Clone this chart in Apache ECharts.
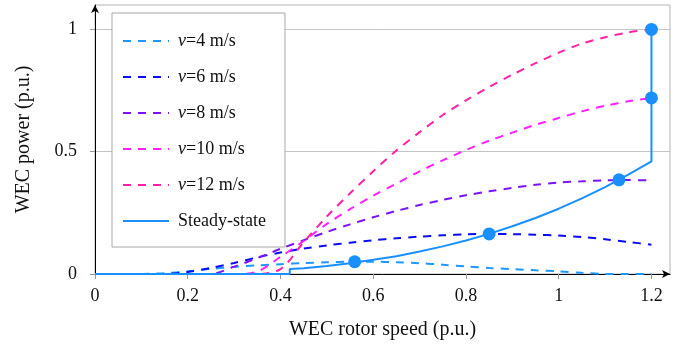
<!DOCTYPE html>
<html>
<head>
<meta charset="utf-8">
<script src="https://cdn.jsdelivr.net/npm/echarts@6/dist/echarts.min.js"></script>
<style>
  html, body { margin: 0; padding: 0; background: #fff; }
  #main { width: 689px; height: 347px; }
</style>
</head>
<body>
<div id="main"></div>
<script>
// rotor speed grid for the wind-speed curves (p.u.)
const speed = [0.1, 0.15, 0.2, 0.25, 0.3, 0.35, 0.4, 0.45, 0.5, 0.55, 0.6, 0.65,
               0.7, 0.75, 0.8, 0.85, 0.9, 0.95, 1.0, 1.05, 1.1, 1.15, 1.2];

const power4  = [0, 0.003, 0.011, 0.021, 0.029, 0.035, 0.040, 0.045, 0.048, 0.050, 0.050, 0.048,
                 0.044, 0.038, 0.031, 0.025, 0.020, 0.015, 0.011, 0.005, 0, 0, 0];
const power6  = [0, 0, 0.008, 0.025, 0.045, 0.068, 0.088, 0.104, 0.117, 0.128, 0.138, 0.146,
                 0.153, 0.158, 0.162, 0.164, 0.163, 0.161, 0.157, 0.151, 0.142, 0.131, 0.12];
const power8  = [0, 0, 0, 0, 0.03, 0.065, 0.103, 0.138, 0.172, 0.203, 0.232, 0.258,
                 0.282, 0.303, 0.322, 0.338, 0.352, 0.365, 0.374, 0.379, 0.383, 0.384, 0.383];
const power10 = [0, 0, 0, 0, 0, 0.01, 0.07, 0.135, 0.205, 0.265, 0.32, 0.37,
                 0.42, 0.465, 0.507, 0.545, 0.578, 0.61, 0.638, 0.665, 0.688, 0.706, 0.72];
const power12 = [0, 0, 0, 0, 0, 0, 0.02, 0.13, 0.235, 0.33, 0.42, 0.505,
                 0.58, 0.65, 0.71, 0.765, 0.815, 0.862, 0.905, 0.942, 0.968, 0.988, 1.0];

// steady-state trajectory
const steadySpeed = [0, 0.42, 0.42, 0.45, 0.5, 0.55, 0.6, 0.65, 0.7, 0.75, 0.8, 0.85,
                     0.9, 0.95, 1.0, 1.05, 1.1, 1.15, 1.2, 1.2];
const steadyPower = [0, 0, 0.02, 0.024, 0.033, 0.044, 0.058, 0.073, 0.092, 0.113, 0.137, 0.164,
                     0.195, 0.229, 0.267, 0.309, 0.355, 0.406, 0.461, 1.0];

// operating points
const opSpeed = [0.56, 0.85, 1.13, 1.2, 1.2];
const opPower = [0.05, 0.164, 0.385, 0.72, 1.0];

const xTicks = [0, 0.2, 0.4, 0.6, 0.8, 1, 1.2];
const yTicks = [0, 0.5, 1];

const FONT = '"Liberation Serif", "DejaVu Serif", serif';

function pairs(xs, ys) {
    return xs.map((x, i) => [x, ys[i]]);
}

function dashed(name, color, values) {
    return {
        name: name,
        type: 'line',
        data: pairs(speed, values),
        smooth: 0.3,
        showSymbol: false,
        symbol: 'none',
        clip: true,
        lineStyle: { color: color, width: 2, type: [8, 7] },
        itemStyle: { color: color },
        z: 2
    };
}

const chart = echarts.init(document.getElementById('main'));

const option = {
    animation: false,
    grid: {
        left: 95, right: 19, top: 5, bottom: 73,
        show: true, borderColor: '#b4b4b4', borderWidth: 1
    },
    legend: {
        left: 112, top: 13,
        orient: 'vertical',
        data: ['v=4 m/s', 'v=6 m/s', 'v=8 m/s', 'v=10 m/s', 'v=12 m/s', 'Steady-state'],
        backgroundColor: '#fff',
        borderColor: '#a8a8a8',
        borderWidth: 1,
        padding: [19, 19, 17, 10],
        itemWidth: 46,
        itemHeight: 14,
        itemGap: 18,
        itemStyle: { opacity: 0 },
        formatter: function (name) {
            if (name.indexOf('v=') === 0) return '{i|v}' + name.slice(1);
            return name;
        },
        textStyle: {
            fontFamily: FONT, fontSize: 18, color: '#111',
            padding: [0, 0, 0, 4],
            rich: { i: { fontFamily: FONT, fontSize: 18, fontStyle: 'italic', color: '#111' } }
        }
    },
    xAxis: {
        type: 'value',
        min: 0, max: 1.24,
        name: 'WEC rotor speed (p.u.)',
        nameLocation: 'middle',
        nameGap: 46,
        nameTextStyle: { fontFamily: FONT, fontSize: 20, color: '#111' },
        axisLine: {
            show: true, onZero: false,
            lineStyle: { color: '#000', width: 1 },
            symbol: ['none', 'arrow'], symbolSize: [6, 8]
        },
        axisTick: { show: true, customValues: xTicks, length: 5, lineStyle: { color: '#999' } },
        axisLabel: {
            customValues: xTicks,
            margin: 13,
            fontFamily: FONT, fontSize: 18, color: '#111'
        },
        splitLine: { show: false }
    },
    yAxis: {
        type: 'value',
        min: 0, max: 1.1,
        name: 'WEC power (p.u.)',
        nameLocation: 'middle',
        nameGap: 61,
        nameTextStyle: { fontFamily: FONT, fontSize: 20, color: '#111' },
        axisLine: {
            show: true, onZero: false,
            lineStyle: { color: '#000', width: 1 },
            symbol: ['none', 'arrow'], symbolSize: [6, 8]
        },
        axisTick: { show: true, customValues: yTicks, length: 5, lineStyle: { color: '#999' } },
        axisLabel: {
            customValues: yTicks,
            margin: 18,
            fontFamily: FONT, fontSize: 18, color: '#111'
        },
        splitLine: { show: true, customValues: [0.5, 1], lineStyle: { color: '#c4c4c4', width: 1 } }
    },
    series: [
        dashed('v=4 m/s', '#1e98ff', power4),
        dashed('v=6 m/s', '#0c0cf0', power6),
        dashed('v=8 m/s', '#7a14f5', power8),
        dashed('v=10 m/s', '#ff22ff', power10),
        dashed('v=12 m/s', '#ff22a6', power12),
        {
            name: 'Steady-state',
            type: 'line',
            data: pairs(steadySpeed, steadyPower),
            showSymbol: false,
            symbol: 'none',
            lineStyle: { color: '#1a90ff', width: 2 },
            itemStyle: { color: '#1a90ff' },
            z: 3
        },
        {
            name: 'points',
            type: 'scatter',
            data: pairs(opSpeed, opPower),
            symbolSize: 13,
            itemStyle: { color: '#1a90ff', opacity: 1 },
            z: 4
        }
    ]
};

chart.setOption(option);
</script>
</body>
</html>
